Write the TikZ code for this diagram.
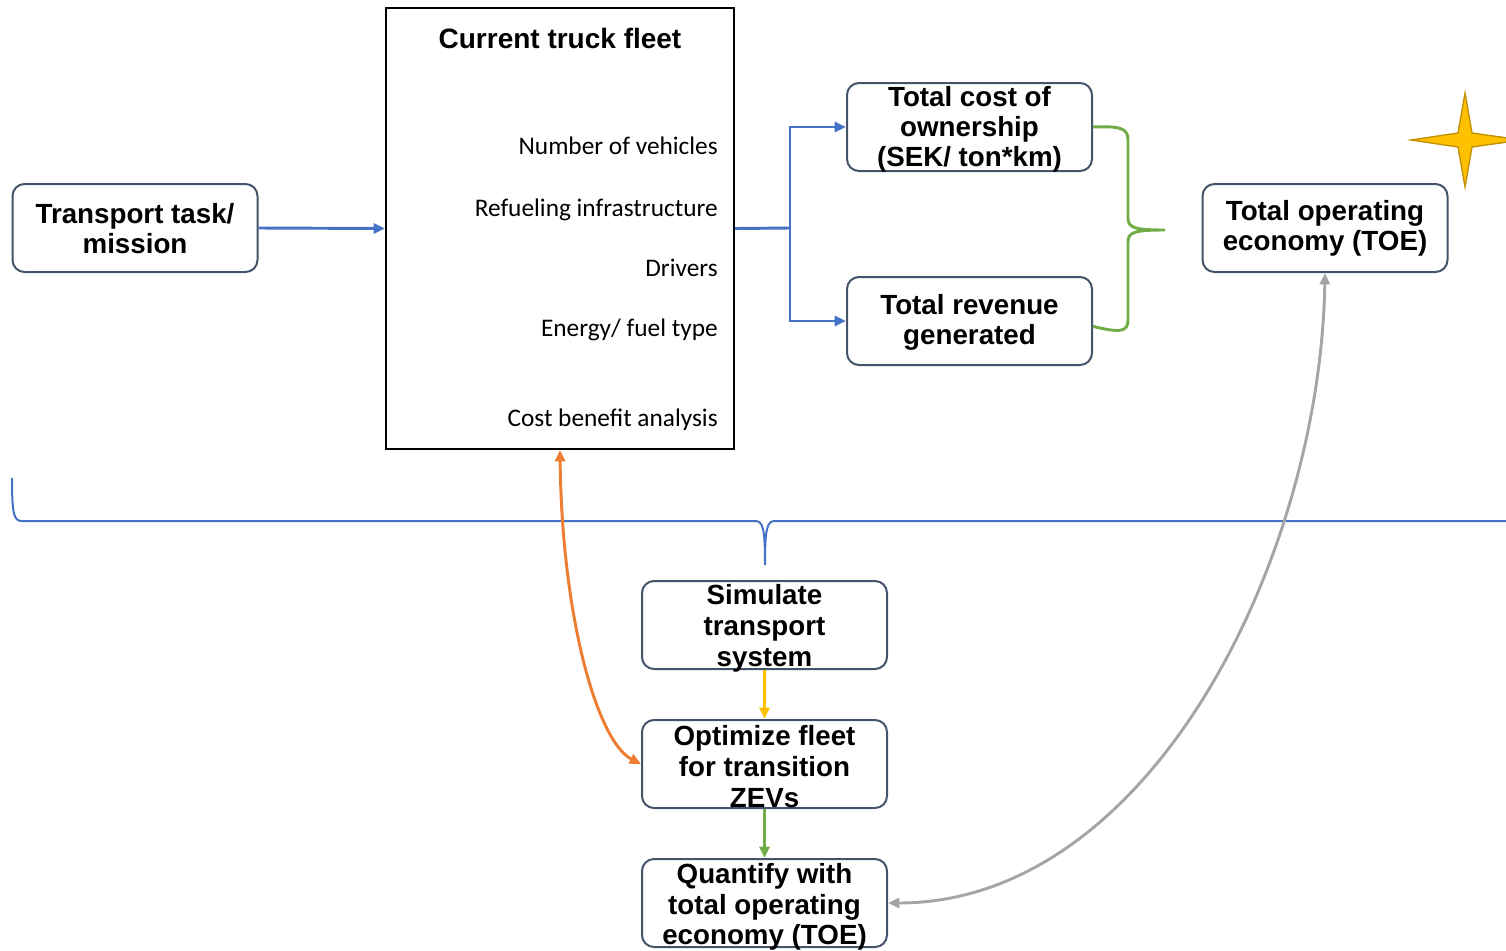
\documentclass[tikz,border=0pt]{standalone}
\usepackage{fontspec}
\setmainfont{Liberation Sans}
\newfontfamily\itemfont{Carlito}
\usetikzlibrary{arrows.meta}
\definecolor{slate}{HTML}{44546A}
\definecolor{flowblue}{HTML}{4472C4}
\definecolor{flowgreen}{HTML}{70AD47}
\definecolor{floworange}{HTML}{ED7D31}
\definecolor{flowgray}{HTML}{A5A5A5}
\definecolor{flowgold}{HTML}{FFC000}
\definecolor{stargold}{HTML}{BF9000}
\begin{document}
\begin{tikzpicture}[x=0.75pt,y=-0.75pt,
  roundbox/.style={draw=slate,line width=1.5pt,rounded corners=9pt,
    minimum width=183.75pt,minimum height=66pt,inner sep=0pt,fill=white},
  boldtext/.style={font=\fontsize{20.8}{22.5}\selectfont\bfseries,align=center,inner sep=0pt},
  tallbold/.style={boldtext,font=\fontsize{20.8}{23}\selectfont\bfseries},
  itemtext/.style={font=\itemfont\fontsize{19}{22}\selectfont,anchor=east,inner sep=0pt},
  arrowtip/.tip={Triangle[length=8.5pt,width=7.5pt]},
  flow/.style={line width=2.2pt,-arrowtip},
  twoway/.style={line width=2.2pt,arrowtip-arrowtip}]
\useasboundingbox (0,0) rectangle (1506,950);
\clip (0,0) rectangle (1506,950);

% boxes
\node[roundbox] (task) at (135,228) {};
\node[boldtext] at ([yshift=-0.5pt]task.center) {Transport task/\\mission};

\node[draw=black,line width=1.5pt,minimum width=261pt,minimum height=330.75pt,inner sep=0pt] (fleet) at (560,228.5) {};
\node[boldtext,font=\fontsize{21}{22}\selectfont\bfseries] (fleettitle) at (560,38) {Current truck fleet};
\node[itemtext] (i1) at (718,146) {Number of vehicles};
\node[itemtext] (i2) at (718,209.5) {Refueling infrastructure};
\node[itemtext] (i3) at (718,268) {Drivers};
\node[itemtext] (i4) at (718,329.5) {Energy/ fuel type};
\node[itemtext] (i5) at (718,419.5) {Cost benefit analysis};

\node[roundbox] (tco) at (969.5,127) {};
\node[boldtext] at ([yshift=-2pt]tco.center) {Total cost of\\ownership\\(SEK/ ton*km)};
\node[roundbox] (rev) at (969.5,321) {};
\node[boldtext] at ([yshift=-1pt]rev.center) {Total revenue\\generated};

\node[roundbox] (toe) at (1325,228) {};
\node[boldtext] at (toe.center) {Total operating\\economy (TOE)};

\node[roundbox] (sim) at (764.5,625) {};
\node[tallbold] at ([yshift=-2.5pt]sim.center) {Simulate\\transport\\system};
\node[roundbox] (opt) at (764.5,764) {};
\node[tallbold] at ([yshift=-2pt]opt.center) {Optimize fleet\\for transition\\ZEVs};
\node[roundbox] (qty) at (764.5,903) {};
\node[tallbold] at ([yshift=-3pt]qty.center) {Quantify with\\total operating\\economy (TOE)};

% four-point star
\draw[fill=flowgold,draw=stargold,line width=1pt]
  (1465,93) -- (1472,133) -- (1522,140) -- (1472,147) -- (1465,187)
  -- (1458,147) -- (1411,140) -- (1458,133) -- cycle;

% connectors
\coordinate (split) at (790,228);
\draw[flowblue,flow] (task.east) -- (fleet.west);
\draw[flowblue,line width=2.2pt] (fleet.east) -- (split);
\draw[flowblue,flow] (split) |- (tco.west);
\draw[flowblue,flow] (split) |- (rev.west);

\coordinate (bracepoint) at (1165,230);
\draw[flowgreen,line width=2.2pt]
  (tco.east) .. controls (1120,126) and (1128,128) .. (1128,140) -- (1128,218)
  .. controls (1128,228) and (1135,230) .. (bracepoint)
  .. controls (1135,230) and (1128,232) .. (1128,242) -- (1128,320)
  .. controls (1128,332) and (1120,333) .. ([yshift=-4pt]rev.east);

% bracket spanning the upper row
\coordinate (bl) at (12,478);
\coordinate (bc) at (765,565);
\coordinate (br) at (1520,521);
\draw[flowblue,line width=1.5pt]
  (bl) .. controls (12,515) and (14,521) .. (22,521) -- (755,521)
  .. controls (763,521) and (765,528) .. (bc)
  .. controls (765,528) and (767,521) .. (775,521) -- (br);

\draw[flowgold,flow] (sim.south) -- (opt.north);
\draw[flowgreen,flow] (opt.south) -- (qty.north);

\draw[floworange,twoway]
  (fleet.south) .. controls (562,620) and (598,742) .. (opt.west);

\draw[flowgray,twoway]
  (toe.south) .. controls (1320,560) and (1150,903) .. (qty.east);
\end{tikzpicture}
\end{document}
